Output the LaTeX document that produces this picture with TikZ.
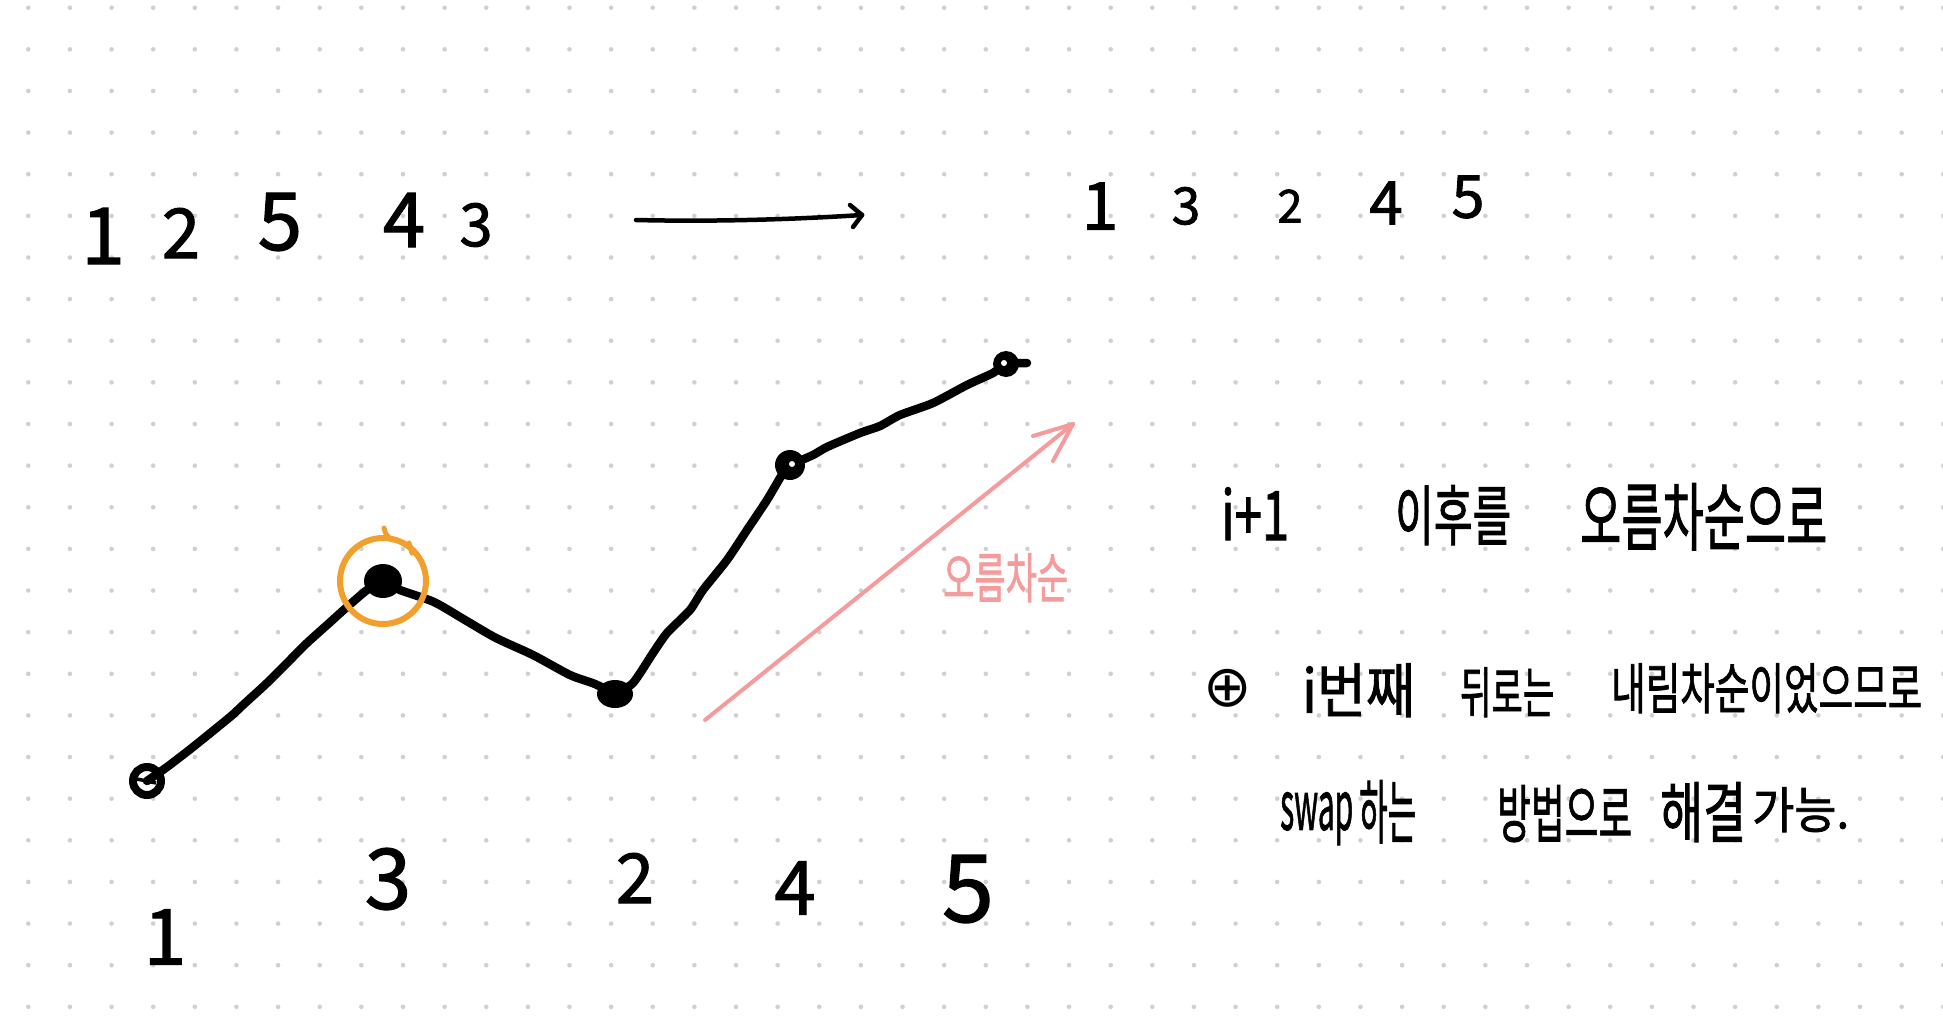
\documentclass[tikz,border=0pt]{standalone}
\usepackage{fontspec}
\usepackage{graphicx}
\newfontfamily\kr[FakeBold=1.5]{Noto Sans CJK KR}
\newfontfamily\djv{DejaVu Sans}
\definecolor{dotc}{RGB}{208,208,208}
\definecolor{orng}{RGB}{242,160,45}
\definecolor{pnk}{RGB}{245,155,155}
\newcommand\rb[3]{\resizebox*{#1pt}{#2pt}{\kr #3}}
\newcommand\dg[2]{\resizebox*{!}{#1pt}{\kr #2}}
\begin{document}
\begin{tikzpicture}[x=1pt,y=-1pt,
  txt/.style={anchor=north west, inner sep=0pt},
  dig/.style={anchor=center, inner sep=0pt},
  graph/.style={line width=8.5pt, line cap=round, line join=round},
  pen/.style={line width=4.5pt, line cap=round, line join=round}]
\fill[white] (0,0) rectangle (1943,1015);
\useasboundingbox (0,0) rectangle (1943,1015);
\foreach \i in {0,...,46}{\foreach \j in {0,...,24}{\fill[dotc] ({28.3+41.63*\i},{7.7+41.63*\j}) circle (2.3pt);}}

% top-left sequence
\node[dig] (a1) at (103,236) {\dg{56}{1}};
\node[dig] (a2) at (181,233) {\dg{50}{2}};
\node[dig] (a3) at (280,222) {\dg{58}{5}};
\node[dig] (a4) at (404,220) {\dg{54}{4}};
\node[dig] (a5) at (476,225) {\dg{44}{3}};
% arrow
\coordinate (aS) at (636,220);
\coordinate (aE) at (862,215);
\draw[pen] (aS) .. controls (720,222) and (800,219) .. (aE);
\draw[pen] (aE) -- ++(-12,-10);
\draw[pen] (aE) -- ++(-9,12);
% top-right sequence
\node[dig] (b1) at (1100,206) {\dg{47}{1}};
\node[dig] (b2) at (1186,206) {\dg{38}{3}};
\node[dig] (b3) at (1290,206) {\dg{33}{2}};
\node[dig] (b4) at (1386,203) {\dg{43}{4}};
\node[dig] (b5) at (1468,197) {\dg{43}{5}};

% graph
\coordinate (p1) at (147,781);
\coordinate (p3) at (383,581);
\coordinate (p2) at (615,694);
\coordinate (p4) at (790,465);
\coordinate (p5) at (1006,364);
\draw[graph] plot[smooth, tension=0.4] coordinates {(p1) (167,767) (193,747) (230,717) (243,705) (267,683) (290,660) (307,643) (327,625) (347,607) (367,590) (p3)};
\draw[graph] plot[smooth, tension=0.4] coordinates {(p3) (400,590) (434,602) (465,620) (496,638) (533,655) (570,675) (595,684) (p2)};
\draw[graph] plot[smooth, tension=0.4] coordinates {(p2) (633,683) (653,653) (667,633) (690,610) (703,590) (727,560) (747,530) (767,500) (783,473) (p4)};
\draw[graph] plot[smooth, tension=0.4] coordinates {(p4) (813,455) (827,447) (860,433) (880,426) (900,415) (933,403) (967,385) (993,373) (p5) (1027,363)};
\draw[line width=8pt] (p1) circle (14pt);
\draw[line width=3.5pt] (137,779) -- (156,783);
\fill (p3) ellipse (19pt and 17pt);
\fill (p2) ellipse (18pt and 14pt);
\fill (p4) circle (15pt);
\fill[white] (792,464) circle (3pt);
\fill (p5) circle (13pt);
\fill[white] (1004,363) circle (3pt);
% orange circle
\draw[orng, line width=6pt] (p3) circle (43pt);
\draw[orng, line width=5pt, line cap=round] (384,528) .. controls (386,535) .. (392,540);
\draw[orng, line width=5pt, line cap=round] (409,543) -- (412,553);

% pink arrow
\coordinate (pkS) at (705,720);
\coordinate (pkE) at (1073,424);
\draw[pnk, line width=4pt, line cap=round] (pkS) -- (pkE);
\draw[pnk, line width=4pt, line cap=round] (pkE) -- ++(-40,12);
\draw[pnk, line width=4pt, line cap=round] (pkE) -- ++(-20,37);
\node[txt, text=pnk] (pkt) at (943,553) {\rb{125}{49}{오름차순}};

% bottom numbers
\node[dig] (c1) at (165,937) {\dg{55}{1}};
\node[dig] (c2) at (388,879) {\dg{62}{3}};
\node[dig] (c3) at (635,878) {\dg{50}{2}};
\node[dig] (c4) at (795,888) {\dg{53}{4}};
\node[dig] (c5) at (968,889) {\dg{68}{5}};

% right text line 1
\node[txt] (l1a) at (1221,487) {\rb{68}{53}{i+1}};
\node[txt] (l1b) at (1395,485) {\rb{116}{60}{이후를}};
\node[txt] (l1c) at (1580,483) {\rb{247}{67}{오름차순으로}};
% line 2
\node[dig] (plus) at (1228,688) {\resizebox*{!}{38pt}{\djv ⊕}};
\node[txt] (l2a) at (1302,663) {\rb{113}{54}{i번째}};
\node[txt] (l2b) at (1460,667) {\rb{94}{50}{뒤로는}};
\node[txt] (l2c) at (1611,663) {\rb{311}{50}{내림차순이었으므로}};
% line 3
\node[txt] (l3a) at (1280,792) {\rb{73}{53}{swap}};
\node[txt] (l3b) at (1359,780) {\rb{57}{63}{하는}};
\node[txt] (l3c) at (1497,785) {\rb{135}{57}{방법으로}};
\node[txt] (l3d) at (1660,782) {\rb{86}{60}{해결}};
\node[txt] (l3e) at (1752,787) {\rb{97}{45}{가능.}};
\end{tikzpicture}
\end{document}
